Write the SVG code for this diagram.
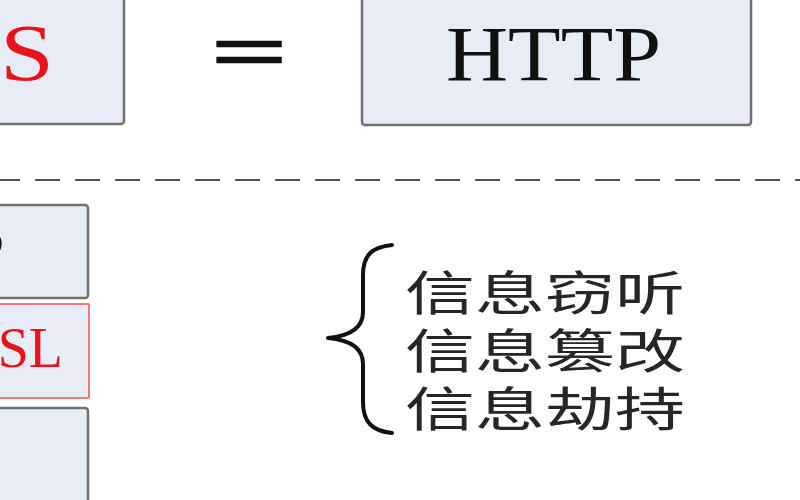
<svg xmlns="http://www.w3.org/2000/svg" width="800" height="500" viewBox="0 0 800 500">
<style>
.box{fill:#e7ecf6;stroke:#707070;stroke-width:2.5}
.red{fill:#e7ecf6;stroke:#f07878;stroke-width:2}
.serif{font-family:"Liberation Serif","Times New Roman",serif}
.cjk{font-family:"Noto Sans CJK SC","Noto Sans",sans-serif;fill:#262626}
</style>
<rect width="800" height="500" fill="#ffffff"/>
<g id="https">
<rect class="box" x="-20" y="-20" width="144" height="144" rx="3"/>
<text class="serif" x="0" y="80" font-size="80" fill="#e8141c" textLength="54" lengthAdjust="spacingAndGlyphs">S</text>
</g>
<g id="equals">
<text class="serif" x="212" y="78" font-size="78" fill="#111" stroke="#111" stroke-width="2.6" textLength="74" lengthAdjust="spacingAndGlyphs">=</text>
</g>
<g id="http">
<rect class="box" x="362" y="-20" width="389" height="145" rx="3"/>
<text class="serif" x="446" y="80" font-size="79" fill="#111" textLength="215" lengthAdjust="spacingAndGlyphs">HTTP</text>
</g>
<g id="connectors">
<line x1="-5" y1="180" x2="805" y2="180" stroke="#505050" stroke-width="2.2" stroke-dasharray="25 15"/>
</g>
<g id="layer-http">
<rect class="box" x="-20" y="205" width="108" height="93" rx="3"/>
<text class="serif" x="4" y="270" font-size="56" fill="#111" text-anchor="end">P</text>
</g>
<g id="layer-ssl">
<rect class="red" x="-20" y="304" width="109" height="94" rx="1"/>
<text class="serif" x="63" y="367" font-size="56" fill="#e8141c" text-anchor="end">SSL</text>
</g>
<g id="layer-tcp">
<rect class="box" x="-20" y="408" width="108" height="115" rx="3"/>
</g>
<g id="threats">
<path d="M392,245 C372,247 363,255 363,275 L363,312 C363,328 350,336 328,338 C350,340 363,348 363,364 L363,402 C363,422 372,431 392,433" fill="none" stroke="#111" stroke-width="4" stroke-linecap="round" stroke-linejoin="round"/>
<text class="cjk" x="405" y="310" font-size="47" textLength="280" lengthAdjust="spacingAndGlyphs">信息窃听</text>
<text class="cjk" x="405" y="368" font-size="47" textLength="280" lengthAdjust="spacingAndGlyphs">信息篡改</text>
<text class="cjk" x="405" y="426" font-size="47" textLength="280" lengthAdjust="spacingAndGlyphs">信息劫持</text>
</g>
</svg>
